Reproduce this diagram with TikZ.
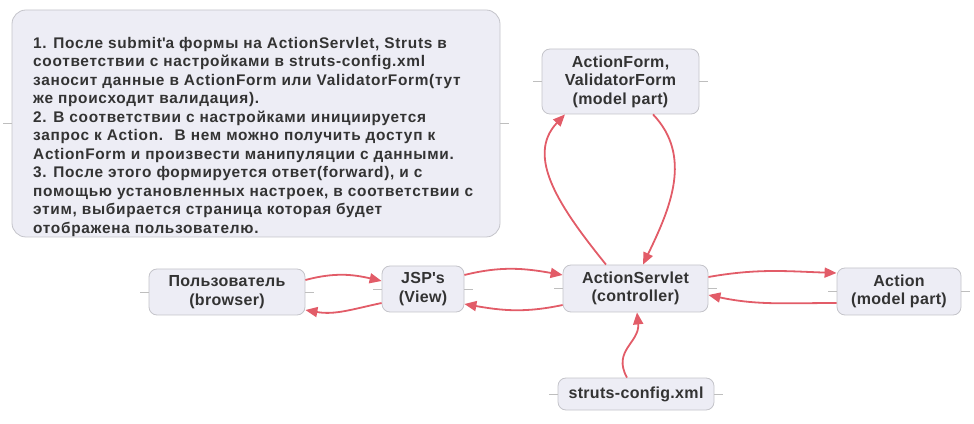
\documentclass[tikz,border=0pt]{standalone}
\usepackage{fontspec}
\setmainfont{Liberation Sans}
\newfontfamily\infofont[LetterSpace=4.5]{Liberation Sans}
\newfontfamily\nodefont[LetterSpace=2]{Liberation Sans}
\usetikzlibrary{arrows.meta}
\definecolor{boxfill}{RGB}{237,237,245}
\definecolor{boxline}{RGB}{196,196,202}
\definecolor{arr}{RGB}{226,92,104}
\definecolor{txt}{RGB}{51,51,51}
\definecolor{stub}{RGB}{190,190,190}
\begin{document}
\begin{tikzpicture}[x=1pt,y=1pt,
  box/.style={draw=boxline, fill=boxfill, line width=0.8pt, rounded corners=8pt, inner sep=0pt, align=center, text=txt, font=\nodefont\fontsize{16}{18.5}\selectfont\bfseries},
  conn/.style={draw=arr, line width=1.8pt, -{Triangle[length=12pt,width=10pt]}},
  stubline/.style={draw=stub, line width=0.6pt}]
\useasboundingbox (0,0) rectangle (974,423);
% info box
\node[box, rounded corners=14pt, minimum width=488pt, minimum height=227pt] (info) at (256,299.5) {};
\node[anchor=north west, inner sep=0pt, align=left, text=txt, font=\infofont\fontsize{15.4}{18.5}\selectfont\bfseries] (infotext) at (33,386) {1. После submit\textquotesingle a формы на ActionServlet, Struts в\\
соответствии с настройками в struts-config.xml\\
заносит данные в ActionForm или ValidatorForm(тут\\
же происходит валидация).\\
2. В соответствии с настройками инициируется\\
запрос к Action. \ В нем можно получить доступ к\\
ActionForm и произвести манипуляции с данными.\\
3. После этого формируется ответ(forward), и с\\
помощью установленных настроек, в соответствии с\\
этим, выбирается страница которая будет\\
отображена пользователю.};
% nodes
\node[box, minimum width=157pt, minimum height=65pt] (af) at (620.5,341.5) {ActionForm,\\ValidatorForm\\(model part)};
\node[box, minimum width=156pt, minimum height=46pt] (user) at (227,131) {Пользователь\\(browser)};
\node[box, minimum width=82pt, minimum height=46pt] (jsp) at (423,134) {JSP\textquotesingle s\\(View)};
\node[box, minimum width=145pt, minimum height=47pt] (as) at (635.5,134.5) {ActionServlet\\(controller)};
\node[box, minimum width=124pt, minimum height=47pt] (act) at (899,131.5) {Action\\(model part)};
\node[box, minimum width=156pt, minimum height=32pt] (sc) at (636,29) {struts-config.xml};
% stubs
\foreach \n in {info,af,user,jsp,as,act,sc}{
  \draw[stubline] (\n.west) -- +(-9,0);
  \draw[stubline] (\n.east) -- +(9,0);
}
% connectors
\draw[conn] ([yshift=12pt]user.east) to[out=15,in=167] ([yshift=8pt]jsp.west);
\draw[conn] ([yshift=-14pt]jsp.west) to[out=192,in=-10] ([yshift=-18pt]user.east);
\draw[conn] ([yshift=14pt]jsp.east) to[out=14,in=170] ([yshift=13.5pt]as.west);
\draw[conn] ([yshift=-16.5pt]as.west) to[out=192,in=-10] ([yshift=-15pt]jsp.east);
\draw[conn] ([yshift=11.5pt]as.east) to[out=10,in=178] ([yshift=18.5pt]act.west);
\draw[conn] ([yshift=-11.5pt]act.west) to[out=180,in=-12] ([yshift=-6.5pt]as.east);
\draw[conn] ([xshift=-29.5pt]as.north) .. controls +(-46,57) and +(-40,-42) .. ([xshift=-55.5pt]af.south);
\draw[conn] ([xshift=32.5pt]af.south) .. controls +(40,-42) and +(27,56) .. ([xshift=7.5pt]as.north);
\draw[conn] ([xshift=-9pt]sc.north) .. controls +(-15,27) and +(3,-30) .. ([xshift=1.5pt]as.south);
\end{tikzpicture}
\end{document}
